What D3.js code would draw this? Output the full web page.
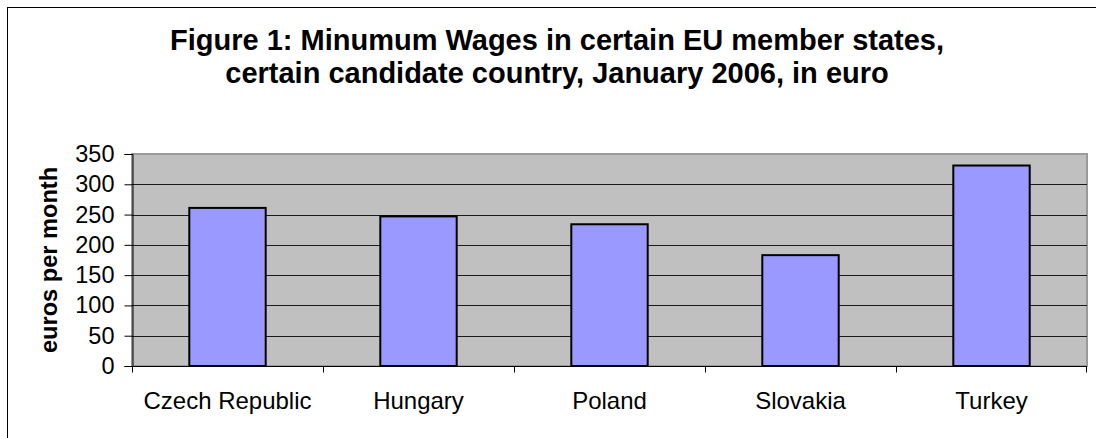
<!DOCTYPE html>
<html>
<head>
<meta charset="utf-8">
<script src="https://cdn.jsdelivr.net/npm/d3@7"></script>
<style>
  body { margin: 0; background: #fff; }
  text { font-family: Arial, "Liberation Sans", sans-serif; }
</style>
</head>
<body>
<svg id="chart"></svg>
<script>
var countries = ["Czech Republic", "Hungary", "Poland", "Slovakia", "Turkey"];
var wages = [261, 247, 234, 183, 331];
var yTicks = [0, 50, 100, 150, 200, 250, 300, 350];
var titleLines = ["Figure 1: Minumum Wages in certain EU member states,",
                  "certain candidate country, January 2006, in euro"];

var width = 1096;
var height = 438;
var margins = {top: 154, right: 9, bottom: 72, left: 132};

var svg = d3.select("#chart")
  .attr("width", width)
  .attr("height", height);

// outer frame (right and bottom edges fall outside the picture)
svg.append("rect")
  .attr("x", 7.5).attr("y", 7.5)
  .attr("width", width + 10).attr("height", height + 10)
  .attr("fill", "#fff")
  .attr("stroke", "#000")
  .attr("stroke-width", 1);

var x = d3.scaleBand()
  .domain(countries)
  .range([margins.left, width - margins.right])
  .paddingInner(0.6)
  .paddingOuter(0.3);

var xBand = d3.scaleBand()
  .domain(countries)
  .range([margins.left, width - margins.right]);

var y = d3.scaleLinear()
  .domain([0, 350])
  .range([height - margins.bottom, margins.top]);

// plot area
svg.append("rect")
  .attr("x", margins.left).attr("y", margins.top)
  .attr("width", width - margins.right - margins.left)
  .attr("height", y(0) - y(350))
  .attr("fill", "#c0c0c0")
  .attr("stroke", "#9a9a9a")
  .attr("stroke-width", 2);

// gridlines
svg.append("g")
  .selectAll("line")
  .data(yTicks.filter(function(d){ return d > 0 && d < 350; }))
  .enter()
  .append("line")
  .attr("x1", margins.left)
  .attr("x2", width - margins.right)
  .attr("y1", function(d){ return Math.round(y(d)) + 0.5; })
  .attr("y2", function(d){ return Math.round(y(d)) + 0.5; })
  .attr("stroke", "#1a1a1a")
  .attr("stroke-width", 1);

// bars
svg.append("g")
  .selectAll("rect")
  .data(wages)
  .enter()
  .append("rect")
  .attr("x", function(d, i){ return x(countries[i]); })
  .attr("y", function(d){ return y(d); })
  .attr("width", x.bandwidth())
  .attr("height", function(d){ return y(0) - y(d); })
  .attr("fill", "#9999ff")
  .attr("stroke", "#000")
  .attr("stroke-width", 2);

// y axis
var yAxis = d3.axisLeft(y)
  .tickValues(yTicks)
  .tickSize(8)
  .tickPadding(10)
  .tickFormat(d3.format("d"));

var gy = svg.append("g")
  .attr("transform", "translate(" + (margins.left + 0.5) + ",0)")
  .call(yAxis);
gy.select(".domain").attr("stroke", "#000");
gy.selectAll(".tick line").attr("stroke", "#000");
gy.selectAll(".tick text")
  .attr("font-size", "23.5px")
  .attr("font-family", "Arial, 'Liberation Sans', sans-serif")
  .attr("fill", "#000");

// x axis, ticks on category boundaries
var gx = svg.append("g")
  .attr("transform", "translate(0," + (y(0) + 0.5) + ")");
gx.append("line")
  .attr("x1", margins.left).attr("x2", width - margins.right)
  .attr("stroke", "#000");
gx.selectAll(".bound")
  .data(countries.concat(["end"]))
  .enter()
  .append("line")
  .attr("class", "bound")
  .attr("x1", function(d, i){ return i < countries.length ? Math.round(xBand(d)) + 0.5 : width - margins.right - 0.5; })
  .attr("x2", function(d, i){ return i < countries.length ? Math.round(xBand(d)) + 0.5 : width - margins.right - 0.5; })
  .attr("y1", 0).attr("y2", 6)
  .attr("stroke", "#000");
gx.selectAll(".lab")
  .data(countries)
  .enter()
  .append("text")
  .attr("class", "lab")
  .attr("x", function(d){ return xBand(d) + xBand.bandwidth() / 2; })
  .attr("y", 42)
  .attr("text-anchor", "middle")
  .attr("font-size", "24px")
  .text(function(d){ return d; });

// y axis title
svg.append("text")
  .attr("transform", "translate(57,260) rotate(-90)")
  .attr("text-anchor", "middle")
  .attr("font-size", "23.6px")
  .attr("font-weight", "bold")
  .text("euros per month");

// title
svg.append("text")
  .attr("x", 557).attr("y", 50)
  .attr("text-anchor", "middle")
  .attr("font-size", "29px")
  .attr("font-weight", "bold")
  .text(titleLines[0]);
svg.append("text")
  .attr("x", 557).attr("y", 83)
  .attr("text-anchor", "middle")
  .attr("font-size", "29px")
  .attr("font-weight", "bold")
  .text(titleLines[1]);
</script>
</body>
</html>
